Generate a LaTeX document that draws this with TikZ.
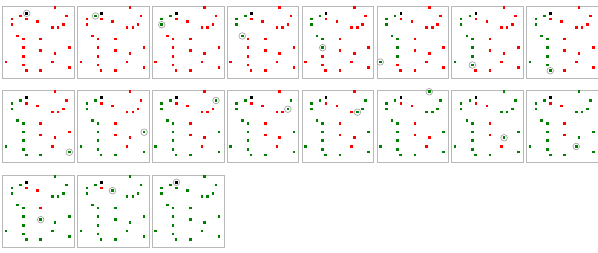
\documentclass[tikz,border=0pt]{standalone}
\usetikzlibrary{positioning}

\begin{document}
\begin{tikzpicture}[
    x=1pt, y=-1pt,
    quadro/.style={rectangle, draw=gray!55, line width=0.8pt, inner sep=0pt, minimum width=71.5pt, minimum height=72pt, anchor=north west},
    ponto/.style={rectangle, inner sep=0pt, minimum size=2.6pt},
    aberto/.style={ponto, fill=red},
    visitado/.style={ponto, fill=green!50!black},
    origem/.style={ponto, fill=black},
    atual/.style={circle, draw=gray!70, line width=0.7pt, minimum size=6.6pt, inner sep=0pt}
]
\useasboundingbox (0,0) rectangle (598,253);

% Quadros: nº de pontos visitados / ponto atual (0 = origem)
\foreach \n/\c [count=\k from 0] in {0/0,1/1,3/3,4/4,6/6,8/8,9/9,10/10,12/12,13/13,
                                     14/14,15/15,16/16,18/18,19/19,20/20,21/21,23/23,24/0} {
  \pgfmathsetmacro{\ox}{2.3+74.85*mod(\k,8)}
  \pgfmathsetmacro{\oy}{6+84.5*floor(\k/8)}
  \begin{scope}[shift={(\ox,\oy)}]
    \node[quadro] (q\k) at (0,0) {};

    % Pontos na ordem do percurso
    \foreach \px/\py [count=\i] in {18.4/10, 9.7/13, 9.7/18.7, 15.4/30, 21.0/33, 21.0/41.7,
        21.0/50.3, 3.7/56, 21.0/59, 24.0/64.7, 38.4/64.7, 67.0/61.7, 67.0/41.7, 64.0/10,
        61.0/18.7, 55.7/21.7, 50.0/21.7, 52.7/1.3, 52.7/47.3, 50.0/56, 38.4/44.7,
        38.4/33, 35.4/15.7, 24.4/13} {
      \ifnum\i>\n
        \node[aberto] (p\k-\i) at (\px,\py) {};
      \else
        \node[visitado] (p\k-\i) at (\px,\py) {};
      \fi
    }

    % Origem
    \node[origem] (a\k) at (24.4,7.3) {};

    % Ponto atual
    \ifnum\c=0
      \node[atual] (c\k) at (a\k) {};
    \else
      \node[atual] (c\k) at (p\k-\c) {};
    \fi
  \end{scope}
}

\end{tikzpicture}
\end{document}
